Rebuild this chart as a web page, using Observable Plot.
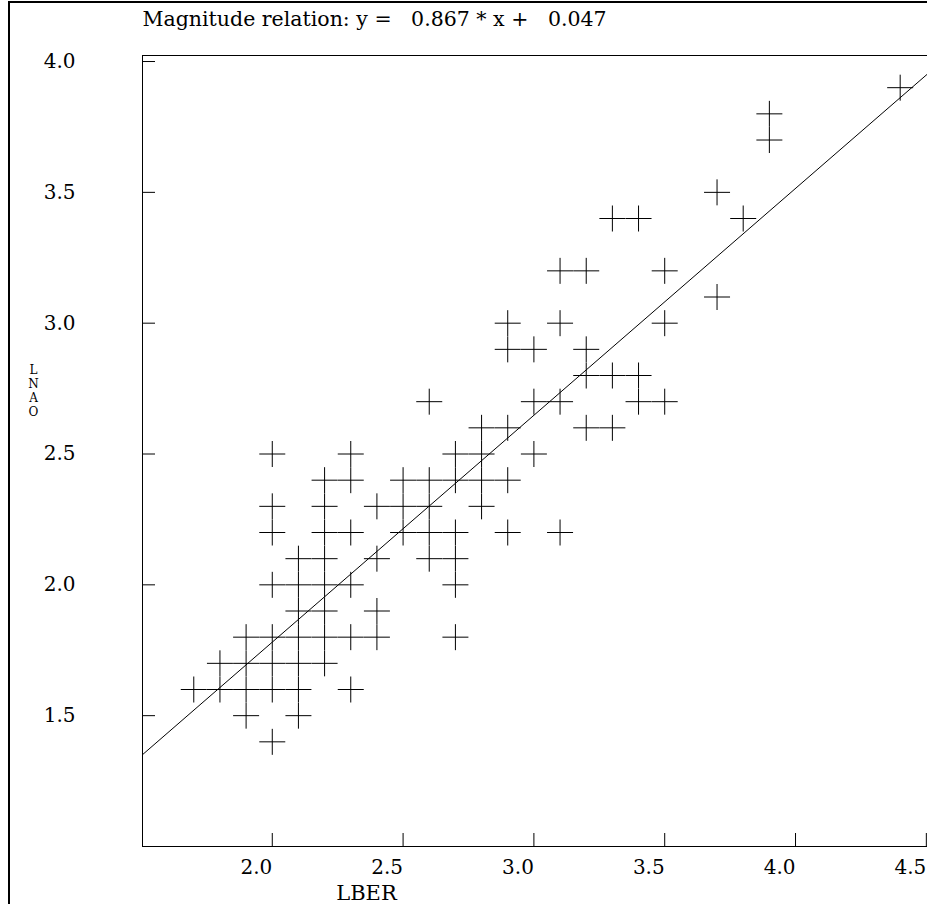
<!DOCTYPE html>
<html>
<head>
<meta charset="utf-8">
<script src="https://cdn.jsdelivr.net/npm/d3@7"></script>
<script src="https://cdn.jsdelivr.net/npm/@observablehq/plot@0.6"></script>
<style>
  html, body { margin: 0; padding: 0; background: #fff; overflow: hidden; width: 927px; height: 904px; }
  #chart { position: absolute; left: 0; top: 0; width: 960px; }
  #chart svg { max-width: none !important; width: 960px !important; height: 904px !important; }
  #border { position: absolute; left: 8px; top: 1px; width: 940px; height: 920px;
            border-left: 2px solid #000; border-top: 2px solid #000; pointer-events: none; }
</style>
</head>
<body>
<div id="chart"></div>
<div id="border"></div>
<script>
// ---- data ----
const lber = [
  4.4,
  3.9,
  3.9,
  3.7,
  3.3, 3.4, 3.8,
  3.1, 3.2, 3.5,
  3.7,
  2.9, 3.1, 3.5,
  2.9, 3.0, 3.2,
  3.2, 3.3, 3.4,
  2.6, 3.0, 3.1, 3.4, 3.5,
  2.8, 2.9, 3.2, 3.3,
  2.0, 2.3, 2.7, 2.8, 3.0,
  2.2, 2.3, 2.5, 2.6, 2.7, 2.8, 2.9,
  2.0, 2.2, 2.4, 2.5, 2.6, 2.8,
  2.0, 2.2, 2.3, 2.5, 2.6, 2.7, 2.9, 3.1,
  2.1, 2.2, 2.4, 2.6, 2.7,
  2.0, 2.1, 2.2, 2.3, 2.7,
  2.1, 2.2, 2.4,
  1.9, 2.0, 2.1, 2.2, 2.3, 2.4, 2.7,
  1.8, 1.9, 2.0, 2.1, 2.2,
  1.7, 1.8, 1.9, 2.0, 2.1, 2.3,
  1.9, 2.1,
  2.0
];
const lnao = [
  3.9,
  3.8,
  3.7,
  3.5,
  3.4, 3.4, 3.4,
  3.2, 3.2, 3.2,
  3.1,
  3.0, 3.0, 3.0,
  2.9, 2.9, 2.9,
  2.8, 2.8, 2.8,
  2.7, 2.7, 2.7, 2.7, 2.7,
  2.6, 2.6, 2.6, 2.6,
  2.5, 2.5, 2.5, 2.5, 2.5,
  2.4, 2.4, 2.4, 2.4, 2.4, 2.4, 2.4,
  2.3, 2.3, 2.3, 2.3, 2.3, 2.3,
  2.2, 2.2, 2.2, 2.2, 2.2, 2.2, 2.2, 2.2,
  2.1, 2.1, 2.1, 2.1, 2.1,
  2.0, 2.0, 2.0, 2.0, 2.0,
  1.9, 1.9, 1.9,
  1.8, 1.8, 1.8, 1.8, 1.8, 1.8, 1.8,
  1.7, 1.7, 1.7, 1.7, 1.7,
  1.6, 1.6, 1.6, 1.6, 1.6, 1.6,
  1.5, 1.5,
  1.4
];
const xTicks = [2.0, 2.5, 3.0, 3.5, 4.0, 4.5];
const yTicks = [1.5, 2.0, 2.5, 3.0, 3.5, 4.0];
const slope = 0.867;
const intercept = 0.047;
const xDomain = [1.504, 4.6];
const yDomain = [1.0, 4.023];
const xLabel = "LBER";
const yLabel = "LNAO";

// ---- derived tables ----
const points = lber.map((x, i) => ({x, y: lnao[i]}));
const fitLine = xDomain.map(x => ({x, y: slope * x + intercept}));
const fmt = d => d.toFixed(3);
const NB = "\u00a0";
const title = `Magnitude relation: y =${NB}${NB}${NB}${fmt(slope)} * x +${NB}${NB}${NB}${fmt(intercept)}`;

const W = 960, H = 904, ML = 142, MR = 8, MT = 55, MB = 58;
const plotW = W - ML - MR, plotH = H - MT - MB;
const font = "DejaVu Serif";

const plusSymbol = {
  draw(ctx, size) {
    const r = Math.sqrt(size / Math.PI);
    ctx.moveTo(-r, 0); ctx.lineTo(r, 0);
    ctx.moveTo(0, -r); ctx.lineTo(0, r);
  }
};

const chart = Plot.plot({
  width: W, height: H,
  marginLeft: ML, marginRight: MR, marginTop: MT, marginBottom: MB,
  style: {fontFamily: font, background: "#fff", color: "#000", maxWidth: "none"},
  x: {domain: xDomain, axis: null},
  y: {domain: yDomain, axis: null},
  marks: [
    Plot.frame({stroke: "#000", strokeWidth: 1}),
    Plot.tickY(yTicks, {y: d => d, insetRight: plotW - 13, stroke: "#000"}),
    Plot.tickX(xTicks, {x: d => d, insetTop: plotH - 13, stroke: "#000"}),
    Plot.axisY(yTicks, {anchor: "left", tickSize: 0, tickPadding: 67, tickFormat: d => d.toFixed(1),
      fontSize: 20, fontFamily: font, label: null, textAnchor: "end"}),
    Plot.axisX(xTicks, {anchor: "bottom", tickSize: 0, tickPadding: 13, tickFormat: d => d.toFixed(1),
      fontSize: 20, fontFamily: font, label: null, textAnchor: "end"}),
    Plot.line(fitLine, {x: "x", y: "y", stroke: "#000", strokeWidth: 1, clip: true}),
    Plot.dot(points, {x: "x", y: "y", symbol: plusSymbol, r: 13, stroke: "#000", strokeWidth: 1, fill: "none"}),
    Plot.text([title], {frameAnchor: "top-left", dy: -36, textAnchor: "start", lineAnchor: "middle",
      fontSize: 20.5, fontFamily: font, fill: "#000"}),
    Plot.text([xLabel], {frameAnchor: "bottom-left", dx: 224, dy: 47, textAnchor: "middle", lineAnchor: "middle",
      fontSize: 21, fontFamily: font, fill: "#000"}),
    Plot.text([yLabel.split("").join("\n")], {frameAnchor: "left", dx: -109, dy: 390 - (MT + plotH / 2),
      textAnchor: "middle", lineAnchor: "middle", lineHeight: 1.17, fontSize: 12, fontFamily: font, fill: "#000"})
  ]
});
document.getElementById("chart").appendChild(chart);
</script>
</body>
</html>
